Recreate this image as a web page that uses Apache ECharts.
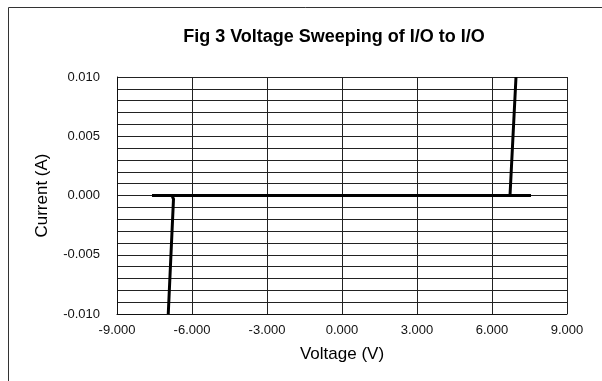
<!DOCTYPE html>
<html>
<head>
<meta charset="utf-8">
<script src="https://cdn.jsdelivr.net/npm/echarts@6/dist/echarts.min.js"></script>
<style>
html,body{margin:0;padding:0;background:#fff;}
#chart{width:602px;height:381px;}
</style>
</head>
<body>
<div id="chart"></div>
<script>
// Data (Voltage in V, Current in A)
var voltage = [-6.95, -6.74, -6.80, -7.60, 7.56, 6.72, 6.96];
var current = [-0.0100, -0.0003, 0.0000, 0.0000, 0.0000, 0.0000, 0.0100];
var xTicks = [-9, -6, -3, 0, 3, 6, 9];
var yTicks = [-0.010, -0.005, 0.000, 0.005, 0.010];
var titleText = 'Fig 3 Voltage Sweeping of I/O to I/O';
var xName = 'Voltage (V)';
var yName = 'Current (A)';

var points = voltage.map(function (v, i) { return [v, current[i]]; });

var chart = echarts.init(document.getElementById('chart'), null, {renderer: 'canvas'});
var font = 'Liberation Sans, Arial, sans-serif';
chart.setOption({
  animation: false,
  backgroundColor: '#fff',
  title: {
    text: titleText,
    left: 329,
    textAlign: 'center',
    top: 23,
    textStyle: {fontFamily: font, fontSize: 18, fontWeight: 'bold', color: '#000'}
  },
  graphic: [{
    type: 'rect',
    shape: {x: 8.5, y: 7.5, width: 700, height: 500},
    style: {fill: 'none', stroke: '#333', lineWidth: 1},
    silent: true
  }],
  grid: {left: 117, top: 77, width: 450, height: 237},
  xAxis: {
    type: 'value',
    min: xTicks[0],
    max: xTicks[xTicks.length - 1],
    interval: 3,
    name: xName,
    nameLocation: 'middle',
    nameGap: 32,
    nameTextStyle: {fontFamily: font, fontSize: 17, color: '#000'},
    axisLine: {onZero: false, lineStyle: {color: '#111', width: 1}},
    axisTick: {show: false},
    axisLabel: {fontFamily: font, fontSize: 13, color: '#111', margin: 10,
      formatter: function (v) { return v.toFixed(3); }},
    splitLine: {show: true, lineStyle: {color: '#222', width: 1}}
  },
  yAxis: {
    type: 'value',
    min: yTicks[0],
    max: yTicks[yTicks.length - 1],
    interval: 0.005,
    name: yName,
    nameLocation: 'middle',
    nameGap: 66,
    nameTextStyle: {fontFamily: font, fontSize: 17, color: '#000'},
    axisLine: {show: true, onZero: false, lineStyle: {color: '#111', width: 1}},
    axisTick: {show: false},
    minorTick: {show: false, splitNumber: 5},
    minorSplitLine: {show: true, lineStyle: {color: '#222', width: 1}},
    axisLabel: {fontFamily: font, fontSize: 13, color: '#111', margin: 17,
      formatter: function (v) { return v.toFixed(3); }},
    splitLine: {show: true, lineStyle: {color: '#222', width: 1}}
  },
  series: [{
    type: 'line',
    data: points,
    symbol: 'none',
    clip: true,
    lineStyle: {color: '#000', width: 3, join: 'miter'}
  }]
});
</script>
</body>
</html>
